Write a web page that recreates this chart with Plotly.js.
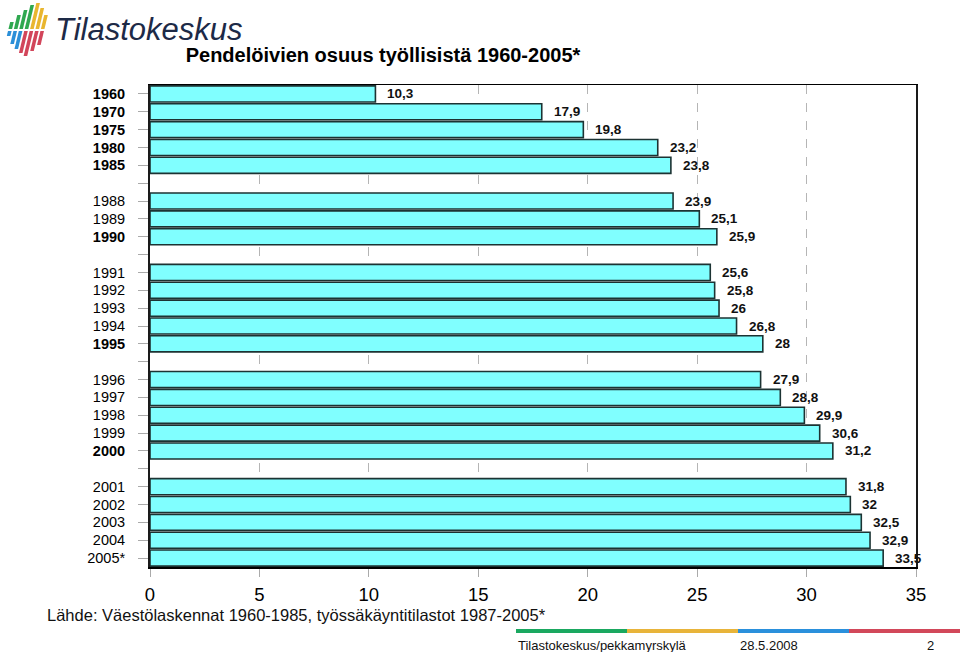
<!DOCTYPE html>
<html>
<head>
<meta charset="utf-8">
<script src="https://cdn.plot.ly/plotly-3.0.1.min.js"></script>
<style>
  html, body { margin: 0; padding: 0; background: #ffffff; }
  #chart { width: 960px; height: 652px; }
</style>
</head>
<body>
<div id="chart"></div>
<script>
// ---- data ----
var yearLabels = ["1960","1970","1975","1980","1985","",
                  "1988","1989","1990","",
                  "1991","1992","1993","1994","1995","",
                  "1996","1997","1998","1999","2000","",
                  "2001","2002","2003","2004","2005*"];
var shares = [10.3,17.9,19.8,23.2,23.8,null,
              23.9,25.1,25.9,null,
              25.6,25.8,26,26.8,28,null,
              27.9,28.8,29.9,30.6,31.2,null,
              31.8,32,32.5,32.9,33.5];
var boldYears = ["1960","1970","1975","1980","1985","1990","1995","2000"];
var xTicks = [0,5,10,15,20,25,30,35];

var titleText = "Pendelöivien osuus työllisistä 1960-2005*";
var sourceText = "Lähde: Väestölaskennat 1960-1985, työssäkäyntitilastot 1987-2005*";
var footerAuthor = "Tilastokeskus/pekkamyrskylä";
var footerDate = "28.5.2008";
var footerPage = "2";
var logoText = "Tilastokeskus";

// ---- layout geometry ----
var W = 960, H = 652, L = 150, R = 44, T = 85, B = 85;
var PW = W - L - R, PH = H - T - B;
function px(x) { return (x - L) / PW; }
function py(y) { return (H - B - y) / PH; }

var NARROW = '"Liberation Sans Narrow", "Arial Narrow", "Liberation Sans", Arial, sans-serif';
var SANS = '"Liberation Sans", Arial, sans-serif';

var idx = yearLabels.map(function (_, i) { return i; });
var barY = [], barX = [];
idx.forEach(function (i) { if (shares[i] !== null) { barY.push(i); barX.push(shares[i]); } });

var tickText = yearLabels.map(function (s) {
  return boldYears.indexOf(s) >= 0 ? "<b>" + s + "</b>" : s;
});

var bars = {
  type: 'bar',
  orientation: 'h',
  x: barX,
  y: barY,
  width: 0.9,
  marker: { color: '#80ffff', line: { color: '#1c3333', width: 1.6 } },
  hoverinfo: 'x+y',
  showlegend: false
};

var annotations = barX.map(function (v, k) {
  return {
    x: v, y: barY[k], xref: 'x', yref: 'y',
    text: '<b>' + String(v).replace('.', ',') + '</b>',
    showarrow: false, xanchor: 'left', yanchor: 'middle', xshift: 10,
    font: { family: SANS, size: 13.5, color: '#111111' }
  };
});

annotations.push({
  x: px(45), y: py(615), xref: 'paper', yref: 'paper', xanchor: 'left', yanchor: 'middle',
  text: sourceText, showarrow: false, font: { family: NARROW, size: 16.5, color: '#111111' }
});
annotations.push({
  x: px(516), y: py(645), xref: 'paper', yref: 'paper', xanchor: 'left', yanchor: 'middle',
  text: footerAuthor, showarrow: false, font: { family: NARROW, size: 13, color: '#111111' }
});
annotations.push({
  x: px(738), y: py(645), xref: 'paper', yref: 'paper', xanchor: 'left', yanchor: 'middle',
  text: footerDate, showarrow: false, font: { family: NARROW, size: 13, color: '#111111' }
});
annotations.push({
  x: px(930), y: py(645), xref: 'paper', yref: 'paper', xanchor: 'center', yanchor: 'middle',
  text: footerPage, showarrow: false, font: { family: NARROW, size: 13, color: '#111111' }
});
annotations.push({
  x: px(53), y: py(30), xref: 'paper', yref: 'paper', xanchor: 'left', yanchor: 'middle',
  text: '<i>' + logoText + '</i>', showarrow: false,
  font: { family: SANS, size: 31, color: '#1d2a47' }
});

var shapes = [];
// footer colored strip
var stripColors = ['#1aa860', '#e8b43a', '#2a90dc', '#d2485a'];
for (var s = 0; s < 4; s++) {
  var x0 = 516 + s * 111, x1 = x0 + 111;
  shapes.push({ type: 'rect', xref: 'paper', yref: 'paper',
    x0: px(x0), x1: px(x1), y0: py(633), y1: py(629),
    line: { width: 0 }, fillcolor: stripColors[s] });
}
// logo stripes
var tops = [22, 15, 10, 5, 3, 8, 15];
var bots = [36, 44, 49, 53, 56, 51, 45];
var slope = 0.24;
for (var i = 0; i < 7; i++) {
  var bx = 2 + i * 5.4;
  var mid = 30;
  var topCol = i < 4 ? '#2fa84f' : '#e9b62f';
  var botCol = i < 3 ? '#2b8fd8' : '#d2455a';
  function seg(ya, yb, col) {
    var xa = bx + (56 - ya) * slope, xb = bx + (56 - yb) * slope;
    var p = 'M ' + px(xa) + ',' + py(ya) + ' L ' + px(xa + 3.6) + ',' + py(ya) +
            ' L ' + px(xb + 3.6) + ',' + py(yb) + ' L ' + px(xb) + ',' + py(yb) + ' Z';
    shapes.push({ type: 'path', xref: 'paper', yref: 'paper', path: p,
      fillcolor: col, line: { width: 0 } });
  }
  seg(tops[i], mid - 1, topCol);
  seg(mid + 1, bots[i], botCol);
}

var layout = {
  width: W, height: H,
  margin: { l: L, r: R, t: T, b: B, pad: 0 },
  paper_bgcolor: '#ffffff', plot_bgcolor: '#ffffff',
  title: {
    text: '<b>' + titleText + '</b>',
    x: 383 / W, xref: 'container', xanchor: 'center',
    y: 1 - 55 / H, yref: 'container', yanchor: 'middle',
    font: { family: NARROW, size: 20, color: '#000000' }
  },
  xaxis: {
    range: [0, 35], tickvals: xTicks, ticktext: xTicks.map(String),
    showgrid: true, gridcolor: '#b5b5b5', griddash: 'dash', gridwidth: 1,
    zeroline: false,
    showline: true, linecolor: '#000000', linewidth: 1.5, mirror: true,
    ticks: 'outside', ticklen: 8, tickcolor: '#aaaaaa', tickwidth: 1,
    ticklabelstandoff: 2,
    tickfont: { family: NARROW, size: 18.5, color: '#000000' },
    fixedrange: true
  },
  yaxis: {
    range: [yearLabels.length - 0.5, -0.5],
    tickvals: idx, ticktext: tickText,
    showgrid: false, zeroline: false,
    showline: true, linecolor: '#1a1a1a', linewidth: 2, mirror: true,
    ticks: 'outside', ticklen: 10, tickcolor: '#aaaaaa', tickwidth: 1,
    ticklabelstandoff: 10,
    tickfont: { family: SANS, size: 14.5, color: '#000000' },
    fixedrange: true
  },
  bargap: 0.1,
  showlegend: false,
  annotations: annotations,
  shapes: shapes
};

Plotly.newPlot('chart', [bars], layout, { displayModeBar: false, staticPlot: true });
</script>
</body>
</html>
